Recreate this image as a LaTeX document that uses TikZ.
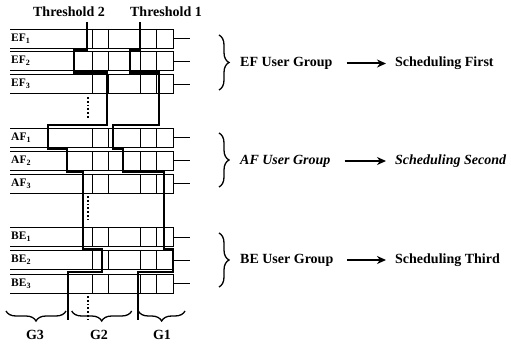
\documentclass[tikz,border=0pt]{standalone}
\usepackage{fontspec}
\setmainfont{Liberation Serif}
\usetikzlibrary{arrows.meta,decorations.pathreplacing}

\begin{document}
\begin{tikzpicture}[x=1pt,y=-1pt,
    every node/.style={inner sep=1pt, font=\fontsize{14}{16}\selectfont\bfseries},
    lbl/.style={anchor=west, font=\fontsize{11.5}{13}\selectfont\bfseries},
    queue/.style={line width=0.7pt},
    thres/.style={line width=2.2pt, line join=miter},
    gap/.style={dotted, line width=1.8pt},
    brc/.style={decorate, decoration={brace, amplitude=10pt}, line width=1.3pt},
    arr/.style={-{Stealth[length=9pt,width=8pt]}, line width=2pt, shorten <=13pt, shorten >=8pt}]
    \useasboundingbox (0,0) rectangle (511,353);

    \node (thr2) at (69,12) {Threshold 2};
    \node (thr1) at (166,12) {Threshold 1};

    \draw[queue] (10,29) -- (173,29) -- (173,48) -- (10,48) (92.5,29) -- (92.5,48) (108.7,29) -- (108.7,48) (140.5,29) -- (140.5,48) (156.7,29) -- (156.7,48) (173,38.5) -- (190,38.5);
    \draw[queue] (10,51.5) -- (173,51.5) -- (173,70.5) -- (10,70.5) (92.5,51.5) -- (92.5,70.5) (108.7,51.5) -- (108.7,70.5) (140.5,51.5) -- (140.5,70.5) (156.7,51.5) -- (156.7,70.5) (173,61) -- (190,61);
    \draw[queue] (10,74.5) -- (173,74.5) -- (173,93.5) -- (10,93.5) (92.5,74.5) -- (92.5,93.5) (108.7,74.5) -- (108.7,93.5) (140.5,74.5) -- (140.5,93.5) (156.7,74.5) -- (156.7,93.5) (173,84) -- (190,84);
    \draw[queue] (10,128) -- (173,128) -- (173,147) -- (10,147) (92.5,128) -- (92.5,147) (108.7,128) -- (108.7,147) (140.5,128) -- (140.5,147) (156.7,128) -- (156.7,147) (173,137.5) -- (190,137.5);
    \draw[queue] (10,151) -- (173,151) -- (173,170) -- (10,170) (92.5,151) -- (92.5,170) (108.7,151) -- (108.7,170) (140.5,151) -- (140.5,170) (156.7,151) -- (156.7,170) (173,160.5) -- (190,160.5);
    \draw[queue] (10,174) -- (173,174) -- (173,193) -- (10,193) (92.5,174) -- (92.5,193) (108.7,174) -- (108.7,193) (140.5,174) -- (140.5,193) (156.7,174) -- (156.7,193) (173,183.5) -- (190,183.5);
    \draw[queue] (10,227.5) -- (173,227.5) -- (173,246.5) -- (10,246.5) (92.5,227.5) -- (92.5,246.5) (108.7,227.5) -- (108.7,246.5) (140.5,227.5) -- (140.5,246.5) (156.7,227.5) -- (156.7,246.5) (173,237) -- (190,237);
    \draw[queue] (10,250.5) -- (173,250.5) -- (173,269.5) -- (10,269.5) (92.5,250.5) -- (92.5,269.5) (108.7,250.5) -- (108.7,269.5) (140.5,250.5) -- (140.5,269.5) (156.7,250.5) -- (156.7,269.5) (173,260) -- (190,260);
    \draw[queue] (10,274) -- (173,274) -- (173,293) -- (10,293) (92.5,274) -- (92.5,293) (108.7,274) -- (108.7,293) (140.5,274) -- (140.5,293) (156.7,274) -- (156.7,293) (173,283.5) -- (190,283.5);

    \node[lbl] (ef1) at (10,38.5) {EF\textsubscript{1}};
    \node[lbl] (ef2) at (10,61) {EF\textsubscript{2}};
    \node[lbl] (ef3) at (10,84) {EF\textsubscript{3}};
    \node[lbl] (af1) at (10,137.5) {AF\textsubscript{1}};
    \node[lbl] (af2) at (10,160.5) {AF\textsubscript{2}};
    \node[lbl] (af3) at (10,183.5) {AF\textsubscript{3}};
    \node[lbl] (be1) at (10,237) {BE\textsubscript{1}};
    \node[lbl] (be2) at (10,260) {BE\textsubscript{2}};
    \node[lbl] (be3) at (10,283.5) {BE\textsubscript{3}};

    \draw[thres] (87,22) -- (87,50) -- (74,50) -- (74,72.5) -- (106.7,72.5) -- (106.7,125) -- (48.3,125) -- (48.3,149) -- (66.7,149) -- (66.7,172) -- (83.3,172) -- (83.3,249) -- (101.7,249) -- (101.7,272) -- (68.3,272) -- (68.3,320);
    \draw[thres] (140,22) -- (140,50) -- (130,50) -- (130,72.5) -- (159.3,72.5) -- (159.3,125) -- (113.3,125) -- (113.3,149) -- (123.3,149) -- (123.3,172) -- (164.3,172) -- (164.3,249) -- (173,249) -- (173,272) -- (137.7,272) -- (137.7,320);

    \draw[gap] (88.3,97) -- (88.3,119);
    \draw[gap] (88.3,196) -- (88.3,220);
    \draw[gap] (88.3,296) -- (88.3,320);

    \draw[brc] (66,311) -- (6,311);
    \draw[brc] (131.7,311) -- (71.7,311);
    \draw[brc] (185,311) -- (138.3,311);
    \node (g3) at (35,335) {G3};
    \node (g2) at (99,335) {G2};
    \node (g1) at (162,335) {G1};

    \draw[brc] (219,35) -- (219,90);
    \draw[brc] (219,133) -- (219,187);
    \draw[brc] (219,233) -- (219,287);

    \node[anchor=west] (efgrp) at (239,63.5) {EF User Group};
    \node[anchor=west] (efsch) at (394,63.5) {Scheduling First};
    \node[anchor=west, font=\fontsize{14}{16}\selectfont\bfseries\itshape] (afgrp) at (239,161) {AF User Group};
    \node[anchor=west, font=\fontsize{14}{16}\selectfont\bfseries\itshape] (afsch) at (394,161) {Scheduling Second};
    \node[anchor=west] (begrp) at (239,260) {BE User Group};
    \node[anchor=west] (besch) at (394,260) {Scheduling Third};

    \draw[arr] (efgrp.east) -- (efsch.west);
    \draw[arr] (afgrp.east) -- (afsch.west);
    \draw[arr] (begrp.east) -- (besch.west);
\end{tikzpicture}
\end{document}
